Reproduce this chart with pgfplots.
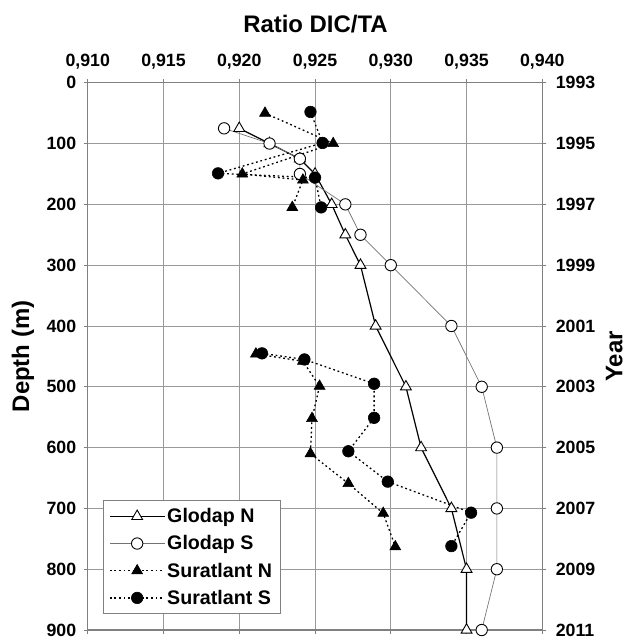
\documentclass[border=0pt]{standalone}
\usepackage{fontspec}
\setmainfont{Liberation Sans}
\usepackage{pgfplots}
\pgfplotsset{compat=1.18}
\usetikzlibrary{calc}
\begin{document}
\begin{tikzpicture}
\pgfplotsset{
  every axis/.append style={
    width=456pt, height=549pt, scale only axis,
    tick align=outside, major tick length=4pt,
    axis line style={draw=black!50, line width=1.3pt},
    tick style={draw=black!50, line width=0.8pt},
    ticklabel style={font=\fontsize{17.8}{20}\selectfont\bfseries},
    label style={font=\fontsize{24}{28}\selectfont\bfseries},
    /pgf/number format/assume math mode=true,
  }
}
\begin{axis}[
  name=main,
  xmin=0.910, xmax=0.940, ymin=0, ymax=900, y dir=reverse,
  xtick={0.910,0.915,0.920,0.925,0.930,0.935,0.940},
  ytick={0,100,200,300,400,500,600,700,800,900},
  xticklabel pos=upper,
  xticklabel style={yshift=6pt, /pgf/number format/.cd, fixed, fixed zerofill, precision=3, use comma},
  yticklabel style={xshift=-4pt, /pgf/number format/.cd, fixed, precision=0},
  grid=major, grid style={draw=black!40, line width=0.8pt},
  xlabel={Ratio DIC/TA},
  xlabel style={at={(axis description cs:0.501,1.107)}, anchor=center},
  ylabel={Depth (m)},
  ylabel style={at={(axis description cs:-0.1425,0.5)}, anchor=center, rotate=0},
  unbounded coords=jump,
  legend style={at={(axis description cs:0.033,0.029)}, anchor=south west,
    draw=black!50, line width=0.8pt, fill=white,
    font=\fontsize{19.7}{23}\selectfont\bfseries, row sep=7.5pt,
    inner xsep=6pt, inner ysep=6pt, cells={anchor=west}},
  legend image code/.code={\draw[mark repeat=2,mark phase=2,#1] plot coordinates {(0pt,0pt) (27.5pt,0pt) (55pt,0pt)};},
]
% Glodap N
\addplot[draw=black, line width=1.2pt, mark=triangle*, mark size=6.3pt,
  mark options={fill=white, draw=black, solid, line width=0.9pt}] coordinates {
(0.9200,75) (0.9220,100) (0.9240,125) (0.9250,150) (0.9261,200) (0.9270,250)
(0.9280,300) (0.9290,400) (0.9310,500) (0.9320,600) (0.9340,700) (0.9350,800) (0.9350,900)
};
\addlegendentry{Glodap N}
% Glodap S
\addplot[draw=black!55, line width=0.7pt, mark=*, mark size=5.7pt,
  mark options={fill=white, draw=black, solid, line width=0.9pt}] coordinates {
(0.9190,75) (0.9220,100) (0.9240,125) (0.9240,150) (0.9270,200) (0.9280,250)
(0.9300,300) (0.9340,400) (0.9360,500) (0.9370,600) (0.9370,700) (0.9370,800) (0.9360,900)
};
\addlegendentry{Glodap S}
% Suratlant N
\addplot[draw=black, line width=1.3pt, dash pattern=on 1.8pt off 2.8pt, mark=triangle*, mark size=6.3pt,
  mark options={fill=black, draw=black, solid, line width=0.6pt}] coordinates {
(0.9217,50) (0.9262,100) (0.9202,150) (0.9242,160) (0.9235,205) (nan,nan)
(0.9211,446) (0.9242,458) (0.9253,499) (0.9248,552) (0.9247,610) (0.9272,659) (0.9295,708) (0.9303,763)
};
\addlegendentry{Suratlant N}
% Suratlant S
\addplot[draw=black, line width=1.3pt, dash pattern=on 1.8pt off 2.8pt, mark=*, mark size=5.8pt,
  mark options={fill=black, draw=black, solid, line width=0.6pt}] coordinates {
(0.9247,48) (0.9255,99) (0.9186,149) (0.9250,156) (0.9254,205) (nan,nan)
(0.9215,445) (0.9243,455) (0.9289,495) (0.9289,551) (0.9272,606) (0.9298,656) (0.9353,707) (0.9340,762)
};
\addlegendentry{Suratlant S}
\end{axis}
\begin{axis}[
  axis x line=none, axis y line*=right,
  xmin=0.910, xmax=0.940,
  ymin=1993, ymax=2011, y dir=reverse,
  ytick={1993,1995,1997,1999,2001,2003,2005,2007,2009,2011},
  yticklabel style={xshift=6pt, /pgf/number format/.cd, fixed, precision=0, 1000 sep={}},
  ylabel={Year},
  ylabel style={at={(axis description cs:1.158,0.5)}, anchor=center, rotate=0},
]
\end{axis}
\pgfresetboundingbox
\path ($(main.south west)+(-88pt,-10pt)$) rectangle ($(main.north east)+(84pt,83pt)$);
\end{tikzpicture}
\end{document}
